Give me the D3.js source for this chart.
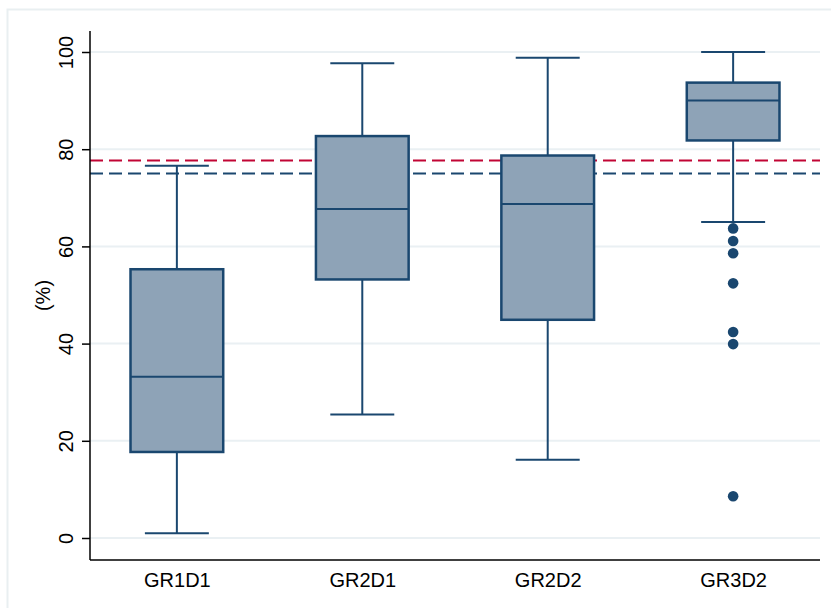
<!DOCTYPE html>
<html lang="en">
    <head>
        <meta charset="utf-8">
        <title>Box plot</title>
		<style>
			body {
				margin: 0;
				background: #fff;
			}
			text {
				font-family: "Liberation Sans", Arial, sans-serif;
				fill: #000;
			}
		</style>
        <script type="text/javascript" src="https://d3js.org/d3.v7.min.js"></script>
    </head>
    <body>
		<div id="chart"></div>
        <script type="text/javascript">

			// values
			var categories = ['GR1D1', 'GR2D1', 'GR2D2', 'GR3D2'];
			var whiskerLow = [1.0, 25.4, 16.1, 65.0];
			var q1 = [17.7, 53.2, 44.9, 81.8];
			var median = [33.2, 67.7, 68.7, 90.0];
			var q3 = [55.3, 82.7, 78.7, 93.7];
			var whiskerHigh = [76.6, 97.7, 98.8, 100.0];
			var outliers = [[], [], [], [63.7, 61.1, 58.6, 52.4, 42.4, 39.9, 8.6]];
			var refLines = [77.7, 75.0];
			var yTicks = [0, 20, 40, 60, 80, 100];

			var w = 831;
			var h = 608;
			var navy = '#1a476f';
			var red = '#c10534';

			var plot = {left: 90, right: 820, top: 31, bottom: 560};

			var svg = d3.select('#chart')
						.append('svg')
						.attr('width', w)
						.attr('height', h);

			// outer frame, the picture is cropped on the right and bottom
			svg.append('rect')
				.attr('x', 7.5)
				.attr('y', 9.5)
				.attr('width', w + 20)
				.attr('height', h + 20)
				.attr('fill', '#fff')
				.attr('stroke', '#e9eff1')
				.attr('stroke-width', 2);

			var x = d3.scalePoint()
						.domain(categories)
						.range([plot.left, plot.right])
						.padding(0.4685);

			var y = d3.scaleLinear()
						.domain([0, 100])
						.range([538, 52]);

			var step = x.step();
			var boxW = step * 0.5;
			var capW = step * 0.345;

			// grid
			svg.append('g')
				.selectAll('line')
				.data(yTicks)
				.enter()
				.append('line')
				.attr('x1', plot.left)
				.attr('x2', plot.right)
				.attr('y1', function(d) { return y(d); })
				.attr('y2', function(d) { return y(d); })
				.attr('stroke', '#eaf0f3')
				.attr('stroke-width', 2);

			// reference lines
			svg.append('g')
				.selectAll('line')
				.data(refLines)
				.enter()
				.append('line')
				.attr('x1', plot.left)
				.attr('x2', plot.right)
				.attr('y1', function(d) { return y(d); })
				.attr('y2', function(d) { return y(d); })
				.attr('stroke', function(d, i) { return i === 0 ? red : navy; })
				.attr('stroke-width', 2)
				.attr('stroke-dasharray', '13,6');

			var boxes = svg.selectAll('.box')
							.data(categories)
							.enter()
							.append('g')
							.attr('class', 'box');

			// whiskers
			boxes.append('line')
				.attr('x1', function(d) { return x(d); })
				.attr('x2', function(d) { return x(d); })
				.attr('y1', function(d, i) { return y(whiskerLow[i]); })
				.attr('y2', function(d, i) { return y(q1[i]); })
				.attr('stroke', navy)
				.attr('stroke-width', 2);
			boxes.append('line')
				.attr('x1', function(d) { return x(d); })
				.attr('x2', function(d) { return x(d); })
				.attr('y1', function(d, i) { return y(q3[i]); })
				.attr('y2', function(d, i) { return y(whiskerHigh[i]); })
				.attr('stroke', navy)
				.attr('stroke-width', 2);

			// caps
			[whiskerLow, whiskerHigh].forEach(function(arr) {
				boxes.append('line')
					.attr('x1', function(d) { return x(d) - capW / 2; })
					.attr('x2', function(d) { return x(d) + capW / 2; })
					.attr('y1', function(d, i) { return y(arr[i]); })
					.attr('y2', function(d, i) { return y(arr[i]); })
					.attr('stroke', navy)
					.attr('stroke-width', 2);
			});

			boxes.append('rect')
				.attr('x', function(d) { return x(d) - boxW / 2; })
				.attr('width', boxW)
				.attr('y', function(d, i) { return y(q3[i]); })
				.attr('height', function(d, i) { return y(q1[i]) - y(q3[i]); })
				.attr('fill', '#8ea3b7')
				.attr('stroke', navy)
				.attr('stroke-width', 2.5);

			boxes.append('line')
				.attr('x1', function(d) { return x(d) - boxW / 2; })
				.attr('x2', function(d) { return x(d) + boxW / 2; })
				.attr('y1', function(d, i) { return y(median[i]); })
				.attr('y2', function(d, i) { return y(median[i]); })
				.attr('stroke', navy)
				.attr('stroke-width', 2);

			// outliers
			boxes.each(function(d, i) {
				d3.select(this).selectAll('circle')
					.data(outliers[i])
					.enter()
					.append('circle')
					.attr('cx', x(d))
					.attr('cy', function(v) { return y(v); })
					.attr('r', 5.3)
					.attr('fill', navy);
			});

			// y axis
			var yAxis = svg.append('g')
							.attr('transform', 'translate(' + plot.left + ',0)')
							.call(d3.axisLeft(y).tickValues(yTicks).tickSize(8).tickPadding(0));
			yAxis.select('.domain').remove();
			yAxis.selectAll('.tick line').attr('stroke', '#000').attr('stroke-width', 1.5);
			yAxis.selectAll('.tick text')
				.attr('font-size', 20)
				.attr('font-family', '"Liberation Sans", Arial, sans-serif')
				.attr('fill', '#000')
				.attr('transform', 'translate(-25,0) rotate(-90)')
				.attr('x', 0)
				.attr('y', 0)
				.attr('dy', 0)
				.attr('text-anchor', 'middle');
			yAxis.selectAll('.tick text')
				.attr('transform', function() {
					return 'translate(-17,0) rotate(-90)';
				});

			svg.append('line')
				.attr('x1', plot.left)
				.attr('x2', plot.left)
				.attr('y1', plot.top)
				.attr('y2', plot.bottom)
				.attr('stroke', '#000')
				.attr('stroke-width', 1.5);

			// x axis
			var xAxis = svg.append('g')
							.attr('transform', 'translate(0,' + plot.bottom + ')')
							.call(d3.axisBottom(x).tickSize(0).tickPadding(0));
			xAxis.select('.domain').remove();
			xAxis.selectAll('.tick text')
				.attr('font-size', 20)
				.attr('font-family', '"Liberation Sans", Arial, sans-serif')
				.attr('fill', '#000')
				.attr('y', 27)
				.attr('dy', 0);

			svg.append('line')
				.attr('x1', plot.left)
				.attr('x2', plot.right)
				.attr('y1', plot.bottom)
				.attr('y2', plot.bottom)
				.attr('stroke', '#000')
				.attr('stroke-width', 1.5);

			svg.append('text')
				.attr('transform', 'translate(50,' + ((plot.top + plot.bottom) / 2) + ') rotate(-90)')
				.attr('text-anchor', 'middle')
				.attr('font-size', 20)
				.text('(%)');

        </script>
    </body>
</html>
